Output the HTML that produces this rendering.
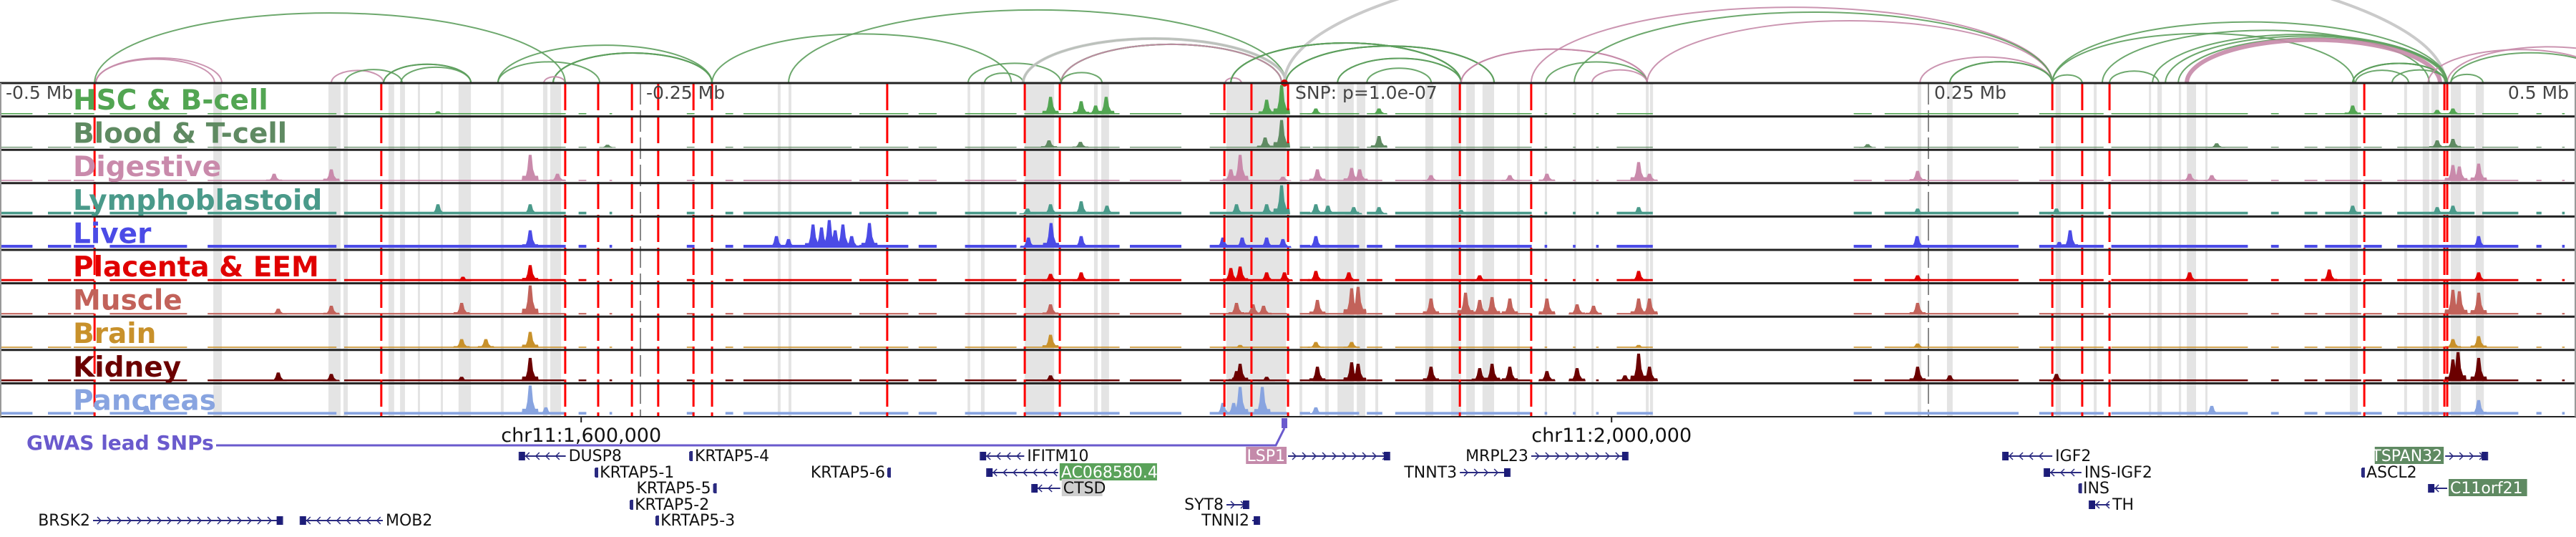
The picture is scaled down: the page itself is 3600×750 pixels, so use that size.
<!DOCTYPE html>
<html><head><meta charset="utf-8"><style>
html,body{margin:0;padding:0;background:#fff;}
svg{display:block;}
text{font-family:"DejaVu Sans","Liberation Sans",sans-serif;}
</style></head>
<body>
<svg id="chart" xmlns="http://www.w3.org/2000/svg" width="3600" height="750" viewBox="0 0 3600 750">
<g id="bands"></g>
<g id="arcs"></g>
<g id="tracks"></g>
<g id="reds"></g>
<g id="frame"></g>
<g id="labels"></g>
<g id="genes"></g>
</svg>
<script>
// ---- data (genomic offsets in kb relative to lead SNP) ----
const trackNames = ["HSC & B-cell","Blood & T-cell","Digestive","Lymphoblastoid","Liver","Placenta & EEM","Muscle","Brain","Kidney","Pancreas"];
const trackColors = ["#52a552","#5f8a62","#c98aab","#4a9a8a","#4b4be6","#e00000","#c2625a","#c8912b","#6b0000","#88a4e0"];
const trackBase = [0.04,0.03,0.04,0.09,0.1,0.07,0.05,0.04,0.06,0.09];
const coverage = [[-498.6,-486],[-480,-471],[-470,-462],[-456,-426],[-418,-368],[-365,-279],[-274,-271],[-262,-261],[-232,-229],[-217,-214],[-210,-168],[-165,-146],[-142,-135],[-124,-104],[-101,-64],[-60,-40],[-29,1],[6,10],[11,29],[32,38],[43,96],[101,102],[112,113],[121,122],[129,143],[221,228],[233,285],[293,318],[321,374],[383,386],[396,401],[404,418],[419,426],[432,462],[465,479],[486,488],[496,497]];
const peaksHSC = [[-328.6,.1],[-90.8,.6],[-78.9,.45],[-73.3,.3],[-69.2,.6],[-6.9,.5],[-1.1,1.0],[12.2,.2],[36.7,.2],[414.7,.3],[447.5,.15],[453.6,.2]];
const peaksBlood = [[-262.8,.1],[-91.4,.25],[-79.2,.2],[-7.5,.35],[-1.1,.95],[36.7,.4],[226.4,.12],[361.9,.15],[447.5,.25],[453.6,.3]];
const peaksDigestive = [[-392.2,.25],[-370,.4],[-292.8,.9],[-282.2,.25],[-20.8,.4],[-17.2,.9],[-0.6,.15],[12.8,.4],[26.1,.45],[29.2,.4],[56.9,.2],[87.5,.2],[101.9,.25],[137.5,.65],[141.7,.25],[245.8,.35],[351.4,.25],[360,.2],[453.6,.55],[456.1,.5],[463.6,.6]];
const peaksLympho = [[-328.6,.35],[-292.8,.35],[-99.7,.2],[-90.8,.35],[-78.9,.45],[-68.9,.3],[-18.6,.35],[-6.9,.35],[-1.1,1.0],[12.2,.35],[16.9,.3],[26.9,.25],[36.7,.25],[68.6,.15],[137.5,.25],[245.8,.2],[299.7,.2],[414.7,.3],[447.5,.25],[453.6,.3]];
const peaksLiver = [[-292.8,.6],[-197.2,.4],[-192.5,.3],[-183,.8],[-179.7,.7],[-176.7,.95],[-174.4,.6],[-171.4,.8],[-168,.4],[-161.1,.85],[-99.4,.35],[-90.6,.85],[-78.9,.4],[-23.9,.35],[-16.4,.35],[-6.9,.35],[-0.6,.3],[12.2,.4],[245.6,.4],[300.8,.2],[305,.6],[463.6,.4]];
const peaksPlacenta = [[-318.9,.15],[-292.8,.55],[-90.8,.25],[-78.9,.3],[-20.8,.45],[-17.2,.5],[-6.9,.3],[0,.3],[12.2,.35],[25,.3],[75.8,.2],[137.5,.35],[245.8,.2],[351.4,.3],[405.6,.4],[463.6,.3]];
const peaksMuscle = [[-390.6,.2],[-370,.3],[-319.4,.4],[-292.8,1.0],[-90.8,.35],[-18.6,.4],[-12.2,.35],[-8.1,.3],[12.8,.5],[26.1,.9],[28.6,.95],[56.9,.55],[70.3,.75],[75.8,.5],[80.6,.6],[87.5,.55],[101.9,.55],[113.6,.35],[120,.3],[137.5,.55],[141.7,.55],[245.8,.4],[453.6,.85],[456.1,.8],[463.6,.75]];
const peaksBrain = [[-319.4,.3],[-310,.3],[-292.8,.55],[-90.8,.45],[-17.2,.1],[12.2,.2],[26.1,.2],[137.5,.1],[245.8,.15],[453.6,.3],[463.6,.4]];
const peaksKidney = [[-390.6,.3],[-370,.25],[-319.4,.15],[-292.8,.8],[-90.8,.2],[-18.6,.35],[-17.2,.6],[-6.9,.15],[12.8,.5],[26.1,.65],[28.6,.6],[56.9,.5],[75.8,.45],[80.6,.6],[87.5,.5],[101.9,.35],[113.6,.45],[132.2,.2],[137.5,.95],[141.7,.5],[245.8,.5],[258.3,.2],[299.7,.25],[453.6,.75],[455.6,1.0],[463.6,.8]];
const peaksPancreas = [[-441.7,.3],[-292.8,1.0],[-286.7,.25],[-23.9,.4],[-19.7,.4],[-17.2,.95],[-8.6,.95],[12.2,.25],[360,.3],[463.6,.5]];
const allPeaks = [peaksHSC,peaksBlood,peaksDigestive,peaksLympho,peaksLiver,peaksPlacenta,peaksMuscle,peaksBrain,peaksKidney,peaksPancreas];
const snpLines = [-461.9,-350.6,-279.2,-266.4,-253.3,-243.1,-229.4,-222.2,-154.2,-100.8,-87.2,-23.3,-12.8,1.4,68.1,95.8,298.1,309.7,320.3,419.2,450.3,451.4];
const bands = [[-415.8,-412.5],[-371.1,-366.4],[-365.3,-363.6],[-347.8,-345.6],[-343.3,-341.4],[-336.4,-335.6],[-327.5,-326.9],[-320.6,-315.8],[-304.2,-303.1],[-287.8,-286.1],[-285,-280.8],[-196.7,-195.6],[-192.5,-191.4],[-123,-122],[-117.8,-116.4],[-100.8,-89.4],[-73.9,-72.5],[-71.1,-68.1],[-22.5,0.6],[5.8,6.9],[15.8,17.2],[20.6,26.9],[28.1,31.4],[35.3,36.4],[54.7,57.8],[64.7,68.6],[70.6,73.9],[76.9,81.4],[90.3,91.4],[101.1,101.9],[112.5,113.3],[119.2,120],[140.3,141.4],[141.9,143.1],[245.8,247.2],[257.2,259.4],[299.4,301.4],[314.2,315.3],[335.6,336.4],[338.9,340.6],[347.2,348.1],[350.3,353.9],[357.5,358.3],[413.6,416.7],[434.7,435.8],[441.9,444.4],[445.3,448.1],[452.8,456.7],[462.5,465.6]];
const arcStarts = [-461.4,-461.4,-370,-364.7,-349.7,-349.7,-343,-305.3,-305.3,-283.9,-283.9,-283.9,-287.5,-222.2,-192.5,-461.9,-122.8,-116.4,-101.4,-101.4,-101.4,-101.4,-86.7,-86.7,-86.7,-86.7,-86.7,-23,0,-20.8,-20.8,-20.8,-20.8,0.6,0.6,0.6,20.6,20.6,32,68.6,68.6,101.4,119.4,140.8,95.8,112.5,246.7,258.3,258.3,298.1,298.1,320.3,317.5,347,350.3,414.7,414.7,414.7,415.8,430,452.8,452.8,444,451.4,298.1,337,342];
const arcEnds   = [-412.5,-415.3,-349.7,-342.5,-315.8,-315.8,-315.8,-265.8,-222.2,-222.2,-222.2,-222.2,-279.2,-106,0.6,-279.2,-86.7,-101.4,0.6,0.6,0.6,0.6,-1.1,-1.1,-1.1,-1.1,-70.8,-16.7,450.6,68.6,68.6,68.6,68.6,81.4,81.4,81.4,68.6,68.6,57,140.8,140.8,140.8,140.8,298.1,298.1,298.1,298.1,298.1,298.1,309.7,415.3,339.4,444.4,450.8,448.6,450.8,450.8,450.8,436.4,451.4,465.3,515,515,530,451.4,451.4,451.4];
const arcKinds  = ["p","p","p","g","g","g","g","g","g","g","g","g","p","g","g","g","g","g","g","g","g","x","g","g","g","p","g","p","x","g","g","g","g","g","g","g","g","g","g","p","p","g","p","p","p","g","p","g","g","g","g","g","g","g","P","g","g","g","g","g","g","g","p","p","g","g","g"];
const geneNames = ["DUSP8","KRTAP5-1","KRTAP5-4","KRTAP5-5","KRTAP5-2","KRTAP5-3","KRTAP5-6","BRSK2","MOB2","IFITM10","AC068580.4","CTSD","SYT8","TNNI2","LSP1","MRPL23","TNNT3","IGF2","INS-IGF2","INS","TH","TSPAN32","ASCL2","C11orf21"];
const geneStart = [-297,-267.5,-230.8,-221.5,-253.9,-243.9,-153.9,-462.5,-382,-118,-115.5,-98,-22.5,-12.5,1.4,95.8,68.1,278.9,295,308.5,312.5,450.6,418.3,444.2];
const geneEnd =   [-279,-266.9,-230,-220.9,-253.3,-243.3,-153.3,-389,-350,-101,-87.8,-87,-13.9,-9.7,40.8,133.3,87.5,298.1,309.4,308.9,320.3,467,418.9,451.4];
const geneRow =   [0,1,0,2,3,4,1,4,4,0,1,2,3,4,0,0,1,0,1,2,3,0,1,2];
const geneStrand= [-1,0,0,0,0,0,0,1,-1,-1,-1,-1,1,1,1,1,1,-1,-1,0,-1,1,0,-1];
const geneLabelSide = ["R","R","R","L","R","R","L","L","R","R","R","R","L","L","L","L","L","R","R","R","R","L","R","R"];
const geneHighlight = ["","","","","","","","","","","#5aa25a","#cfcfcf","","","#c48aaa","","","","","","","#5f8a62","","#5f8a62"];
const axisTicks = [1600000,2000000];
const topTicks = ["-0.5 Mb","-0.25 Mb","0.25 Mb","0.5 Mb"];
const topTickKb = [-500,-250,250,500];
const snpPos = 1873000;

// ---- scales ----
const X0 = 1795, PXKB = 3.6;
function x(kb){ return X0 + kb*PXKB; }
function xg(pos){ return x((pos - snpPos)/1000); }
const ROW0 = 116, ROWH = 46.6;
function rowTop(i){ return ROW0 + i*ROWH; }
function yv(i, v){ return rowTop(i) + ROWH - 3 - v*(ROWH-6); }

const NS = "http://www.w3.org/2000/svg";
function mk(tag, parent, attrs){ const e=document.createElementNS(NS,tag); for(const k in attrs) e.setAttribute(k, attrs[k]); parent.appendChild(e); return e; }
const gB=document.getElementById('bands'), gA=document.getElementById('arcs'), gT=document.getElementById('tracks'),
      gR=document.getElementById('reds'), gF=document.getElementById('frame'), gL=document.getElementById('labels'), gG=document.getElementById('genes');
const TOP = ROW0, BOT = rowTop(10);

bands.forEach(b=>{
  const r=mk('rect',gB,{x:x(b[0]),y:TOP,width:Math.max(3,x(b[1])-x(b[0])),height:BOT-TOP,fill:'#e4e4e4'});
  
  
});
[-250,250].forEach(k=>{
  const l=mk('line',gB,{x1:x(k),x2:x(k),y1:TOP,y2:BOT,stroke:'#888','stroke-width':2,'stroke-dasharray':'30 8'});
  
  
});

const arcColor = {g:'#5d9e5d',p:'#c58aa8',x:'#c4c4c4',P:'#c58aa8'};
const arcW = {g:2,p:2,x:4,P:6};
arcStarts.forEach((s,i)=>{
  const x1=x(s), x2=x(arcEnds[i]); const span=Math.abs(x2-x1);
  const h = 0.62*Math.pow(span,0.78);
  const p=mk('path',gA,{d:`M${x1},${TOP} A${span/2},${h} 0 0 1 ${x2},${TOP}`,fill:'none',stroke:arcColor[arcKinds[i]],'stroke-width':arcW[arcKinds[i]],opacity:0.9});
  
  
});
const dot=mk('circle',gA,{cx:x(0),cy:TOP,r:5,fill:'#e00000'});



trackNames.forEach((nm,i)=>{
  const g=mk('g',gT,{});
  
  
  const base = yv(i,0);
  coverage.forEach(c=>{
    const r=mk('rect',g,{x:x(c[0]),y:yv(i,trackBase[i]),width:x(c[1])-x(c[0]),height:base-yv(i,trackBase[i]),fill:trackColors[i]});
    
    
  });
  allPeaks[i].forEach(p=>{
    const cx=x(p[0]), ty=yv(i,p[1]), sy=yv(i,p[1]*0.45), ly=yv(i,p[1]*0.2);
    const poly=mk('polygon',g,{points:`${cx-12},${base} ${cx-11},${ly} ${cx-6},${ly} ${cx-4},${sy} ${cx-2},${ty} ${cx+2},${ty} ${cx+4},${sy} ${cx+7},${ly} ${cx+11},${ly} ${cx+12},${base}`,fill:trackColors[i]});
    
    
  });
});

snpLines.forEach(k=>{
  const l=mk('line',gR,{x1:x(k),x2:x(k),y1:TOP,y2:BOT,stroke:'#ff0000','stroke-width':3,'stroke-dasharray':'38 8'});
  
  
});

for(let i=0;i<=10;i++){
  const l=mk('line',gF,{x1:0,x2:3600,y1:rowTop(i),y2:rowTop(i),stroke:'#222','stroke-width':i==10?2:3});
  
  
}
mk('line',gF,{x1:1,x2:1,y1:TOP,y2:BOT,stroke:'#999','stroke-width':2});
mk('line',gF,{x1:3599,x2:3599,y1:TOP,y2:BOT,stroke:'#999','stroke-width':2});

trackNames.forEach((nm,i)=>{
  const t=mk('text',gL,{x:102,y:rowTop(i)+37,'font-size':39,'font-weight':'bold',fill:trackColors[i]});
  t.textContent=nm;
  
  
});
topTicks.forEach((s,i)=>{
  const k=topTickKb[i];
  const anchor = k>=500?'end':'start';
  const tx = k<=-500?8:(k>=500?3590:x(k)+8);
  const t=mk('text',gL,{x:tx,y:TOP+22,'font-size':25,fill:'#444','text-anchor':anchor});
  t.textContent=s;
  
  
});
const snpT=mk('text',gL,{x:x(0)+15,y:TOP+22,'font-size':25,fill:'#444'});
snpT.textContent='SNP: p=1.0e-07';



axisTicks.forEach(p=>{
  const px=xg(p);
  mk('line',gL,{x1:px,x2:px,y1:BOT,y2:BOT+8,stroke:'#222','stroke-width':2});
  const t=mk('text',gL,{x:px,y:BOT+35,'font-size':27,'text-anchor':'middle',fill:'#111'});
  t.textContent='chr11:'+p.toLocaleString('en-US');
  
  
});

const gw=mk('text',gL,{x:37,y:628,'font-size':28,'font-weight':'bold',fill:'#6a5acd'});
gw.textContent='GWAS lead SNPs';


const gwl=mk('polyline',gL,{points:`302,622 ${x(0)-12},622 ${x(0)},598`,fill:'none',stroke:'#6a5acd','stroke-width':3});


const gwm=mk('rect',gL,{x:x(0)-4,y:584,width:8,height:14,fill:'#6a5acd'});



const GROW=[644,667,689,712,734];
geneNames.forEach((nm,i)=>{
  const g=mk('g',gG,{});
  
  
  const y=GROW[geneRow[i]], x1=x(geneStart[i]), x2=x(geneEnd[i]);
  mk('line',g,{x1:x1,x2:x2,y1:y-7,y2:y-7,stroke:'#2a2a80','stroke-width':2});
  if(x2-x1<6){ mk('rect',g,{x:x1,y:y-14,width:4,height:14,fill:'#2a2a80'}); }
  else {
    const st=geneStrand[i];
    if(st!==0){
      for(let ax=x1+10; ax<x2-4; ax+=14){
        const d = st>0?`M${ax-4},${y-12} L${ax+1},${y-7} L${ax-4},${y-2}`:`M${ax+4},${y-12} L${ax-1},${y-7} L${ax+4},${y-2}`;
        mk('path',g,{d:d,fill:'none',stroke:'#2a2a80','stroke-width':1.5});
      }
    }
    const bx = st>0? x2-8 : x1;
    mk('rect',g,{x:bx,y:y-13,width:8,height:12,fill:'#1c1c78'});
  }
  mk('line',g,{x1:(geneStrand[i]>0?x2:x1),x2:(geneStrand[i]>0?x2:x1),y1:y-13,y2:y-1,stroke:'#2a2a80','stroke-width':2});
  const left = geneLabelSide[i]==='L';
  const tx = left? x1-4 : x2+4;
  const fs=22;
  const w = nm.length*fs*0.6;
  if(geneHighlight[i]){
    mk('rect',g,{x:left?tx-w-2:tx-2,y:y-20,width:w+4,height:24,fill:geneHighlight[i]});
  }
  const t=mk('text',g,{x:tx,y:y,'font-size':fs,'text-anchor':left?'end':'start',fill:geneHighlight[i]&&geneHighlight[i]!=='#cfcfcf'?'#fff':'#111'});
  t.textContent=nm;
});
</script>
</body></html>
